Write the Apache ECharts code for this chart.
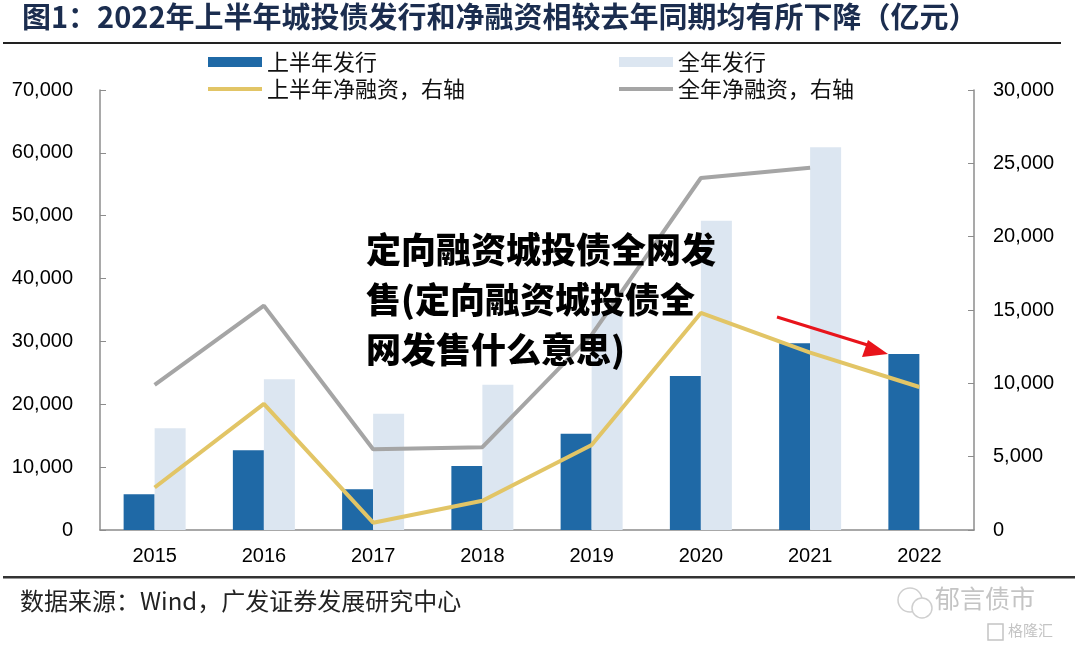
<!DOCTYPE html>
<html>
<head>
<meta charset="utf-8">
<script src="https://cdn.jsdelivr.net/npm/echarts@6/dist/echarts.min.js"></script>
<style>
  html, body { margin: 0; padding: 0; background: #fff; }
  #chart { width: 1080px; height: 650px; }
</style>
</head>
<body>
<div id="chart"></div>
<script>
// 数据（亿元）
var years = ['2015', '2016', '2017', '2018', '2019', '2020', '2021', '2022'];
var h1Issue = [5700, 12700, 6500, 10200, 15300, 24500, 29700, 28000];
var fyIssue = [16200, 24000, 18500, 23100, 34500, 49200, 60900, null];
var h1Net = [2900, 8600, 500, 2000, 5800, 14800, 12100, 9750];
var fyNet = [9900, 15300, 5500, 5650, 13300, 24000, 24700, null];
var leftTicks = [0, 70000, 10000];
var rightTicks = [0, 30000, 5000];

var chart = echarts.init(document.getElementById('chart'));

var axisFont = 'Liberation Sans, Arial, sans-serif';
var cjkFont = '"Noto Sans CJK SC", sans-serif';
// 图例中的线条样式（细长条）
var lineIcon = 'path://M0,0L0.01,0M0,3L54,3L54,7L0,7ZM0,10L0.01,10';

chart.setOption({
  animation: false,
  backgroundColor: '#fff',
  grid: { left: 100, right: 106, top: 90, bottom: 120 },
  legend: [
    {
      orient: 'vertical',
      left: 203, top: 46,
      itemWidth: 54, itemHeight: 10, itemGap: 5,
      textStyle: { fontFamily: cjkFont, fontSize: 22, color: '#111' },
      data: [
        { name: '上半年发行', icon: 'rect' },
        { name: '上半年净融资，右轴', icon: lineIcon }
      ]
    },
    {
      orient: 'vertical',
      left: 614, top: 46,
      itemWidth: 54, itemHeight: 10, itemGap: 5,
      textStyle: { fontFamily: cjkFont, fontSize: 22, color: '#111' },
      data: [
        { name: '全年发行', icon: 'rect' },
        { name: '全年净融资，右轴', icon: lineIcon }
      ]
    }
  ],
  xAxis: {
    type: 'category',
    data: years,
    axisTick: { show: false },
    axisLine: { lineStyle: { color: '#8c8c8c', width: 1.5 } },
    axisLabel: { fontFamily: axisFont, fontSize: 20, color: '#000', margin: 16 }
  },
  yAxis: [
    {
      type: 'value',
      min: leftTicks[0], max: leftTicks[1], interval: leftTicks[2],
      splitLine: { show: false },
      axisLine: { show: true, lineStyle: { color: '#8c8c8c', width: 1.5 } },
      axisTick: { show: true, inside: true, length: 6, lineStyle: { color: '#8c8c8c' } },
      axisLabel: {
        fontFamily: axisFont, fontSize: 20, color: '#000', margin: 27,
        formatter: function (v) { return v.toLocaleString('en-US'); }
      }
    },
    {
      type: 'value',
      min: rightTicks[0], max: rightTicks[1], interval: rightTicks[2],
      splitLine: { show: false },
      axisLine: { show: true, lineStyle: { color: '#8c8c8c', width: 1.5 } },
      axisTick: { show: true, inside: true, length: 6, lineStyle: { color: '#8c8c8c' } },
      axisLabel: {
        fontFamily: axisFont, fontSize: 20, color: '#000', margin: 19,
        formatter: function (v) { return v.toLocaleString('en-US'); }
      }
    }
  ],
  series: [
    {
      name: '上半年发行', type: 'bar', data: h1Issue,
      barWidth: 31, barGap: '0%',
      itemStyle: { color: '#1F69A6' }
    },
    {
      name: '全年发行', type: 'bar', data: fyIssue,
      barWidth: 31,
      itemStyle: { color: '#DCE6F1' }
    },
    {
      name: '上半年净融资，右轴', type: 'line', yAxisIndex: 1, data: h1Net,
      symbol: 'none', z: 5,
      lineStyle: { color: '#E2C566', width: 4 },
      itemStyle: { color: '#E2C566' }
    },
    {
      name: '全年净融资，右轴', type: 'line', yAxisIndex: 1, data: fyNet,
      symbol: 'none', z: 4, connectNulls: false,
      lineStyle: { color: '#A5A5A5', width: 4 },
      itemStyle: { color: '#A5A5A5' }
    }
  ],
  graphic: [
    // 标题
    {
      type: 'text', left: 22, top: 2,
      style: {
        text: '图1：2022年上半年城投债发行和净融资相较去年同期均有所下降（亿元）',
        font: 'bold 29px ' + cjkFont, fill: '#1B2D4F'
      }
    },
    { type: 'rect', shape: { x: 3, y: 42, width: 1058, height: 2 }, style: { fill: '#222' } },
    // 底部
    { type: 'rect', shape: { x: 3, y: 576, width: 1072, height: 2.5 }, style: { fill: '#333' } },
    {
      type: 'text', left: 20, top: 589,
      style: { text: '数据来源：Wind，广发证券发展研究中心', font: '24px ' + cjkFont, fill: '#222' }
    },
    {
      type: 'text', left: 935, top: 586,
      style: { text: '郁言债市', font: '25px ' + cjkFont, fill: '#c4c4c4' }
    },
    {
      type: 'circle', shape: { cx: 910, cy: 600, r: 12 },
      style: { fill: 'none', stroke: '#cfcfcf', lineWidth: 1.5 }
    },
    {
      type: 'circle', shape: { cx: 922, cy: 608, r: 10 },
      style: { fill: '#fff', stroke: '#cfcfcf', lineWidth: 1.5 }
    },
    {
      type: 'text', left: 1008, top: 623,
      style: { text: '格隆汇', font: '15px ' + cjkFont, fill: '#c4c4c4' }
    },
    {
      type: 'rect', shape: { x: 988, y: 624, width: 15, height: 16 },
      style: { fill: 'none', stroke: '#c4c4c4', lineWidth: 1.5 }
    },
    // 红色箭头
    {
      type: 'line', z: 10,
      shape: { x1: 777, y1: 317, x2: 874, y2: 347 },
      style: { stroke: '#E8141B', lineWidth: 3 }
    },
    {
      type: 'polygon', z: 10,
      shape: { points: [[888, 354], [868, 340], [862, 357]] },
      style: { fill: '#E8141B' }
    },
    // 覆盖文字
    {
      type: 'text', left: 366, top: 225, z: 20,
      style: {
        text: '定向融资城投债全网发\n售(定向融资城投债全\n网发售什么意思)',
        font: '900 35px ' + cjkFont, fill: '#000', lineHeight: 50
      }
    }
  ]
});
</script>
</body>
</html>
